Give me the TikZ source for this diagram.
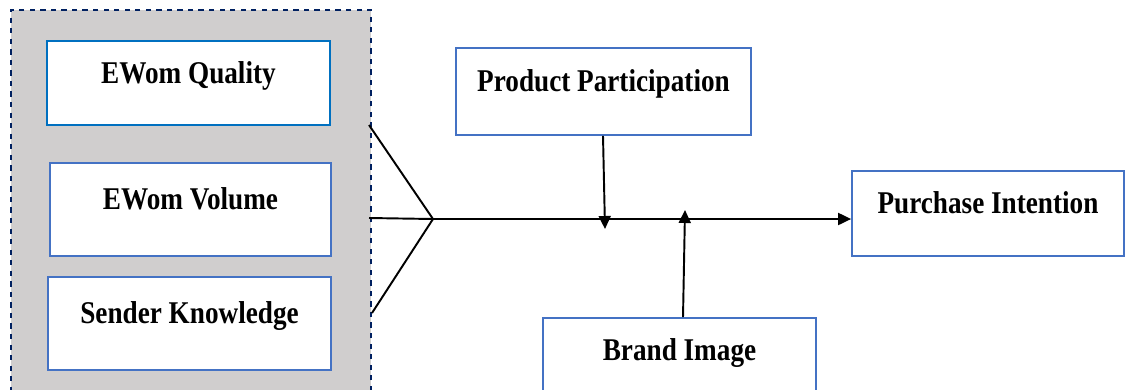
\documentclass[tikz,border=0pt]{standalone}
\usepackage{fontspec}
\setmainfont{Liberation Serif}[FakeStretch=0.86]
\usetikzlibrary{arrows.meta}
\definecolor{groupgray}{HTML}{D0CECE}
\definecolor{groupnavy}{HTML}{002060}
\definecolor{boxblue}{HTML}{4472C4}
\definecolor{boxblueb}{HTML}{0070C0}
\tikzset{
  varbox/.style={draw=boxblue, line width=1pt, fill=white, inner sep=0pt,
    text height=0.42cm, text depth=0.42cm,
    font=\fontsize{18}{20}\selectfont\bfseries},
  link/.style={line width=1.1pt},
  flow/.style={line width=1.1pt, -{Triangle[length=0.26cm,width=0.24cm]}}
}
\begin{document}
\begin{tikzpicture}
		%%%%% START %%%%%
		\useasboundingbox (0, 0) rectangle (22.5, 7.78);
		
		\node[draw=groupnavy, dashed, line width=0.8pt, fill=groupgray, minimum width=7.2cm, minimum height=7.8cm, inner sep=0pt] (group) at (3.82, 3.68) {};
		
		\node[varbox, draw=boxblueb, minimum width=5.66cm, minimum height=1.68cm] (quality) at (3.77, 6.12) {EWom Quality};
		\node[varbox, minimum width=5.62cm, minimum height=1.86cm] (volume) at (3.81, 3.59) {EWom Volume};
		\node[varbox, minimum width=5.66cm, minimum height=1.86cm] (sender) at (3.79, 1.31) {Sender Knowledge};
		
		\node[varbox, minimum width=5.90cm, minimum height=1.74cm] (product) at (12.07, 5.95) {Product Participation};
		\node[varbox, minimum width=5.44cm, minimum height=1.70cm] (purchase) at (19.76, 3.51) {Purchase Intention};
		\node[varbox, minimum width=5.46cm, minimum height=1.68cm] (brand) at (13.59, 0.58) {Brand Image};
		
		\coordinate (join) at (8.66, 3.40);
		\coordinate (qout) at (7.38, 5.28);
		\coordinate (vout) at (7.38, 3.42);
		\coordinate (sout) at (7.44, 1.52);
		
		\draw[link] (qout) -- (join);
		\draw[link] (vout) -- (join);
		\draw[link] (sout) -- (join);
		\draw[flow] (join) -- (join -| purchase.west);
		
		\coordinate (ptip) at (12.10, 3.20);
		\coordinate (btip) at (13.70, 3.58);
		\draw[flow] (product.south -| 12.06, 0) -- (ptip);
		\draw[flow] (brand.north -| 13.66, 0) -- (btip);
		
		%%%%% END %%%%%
	\end{tikzpicture}
\end{document}
